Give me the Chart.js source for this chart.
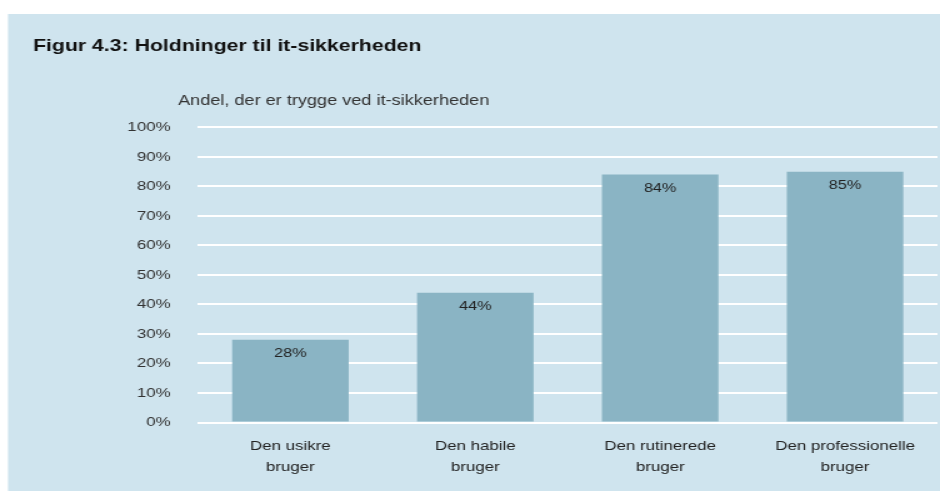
<!DOCTYPE html>
<html>
<head>
<meta charset="utf-8">
<script src="https://cdn.jsdelivr.net/npm/chart.js@4/dist/chart.umd.min.js"></script>
<style>
  html, body { margin: 0; padding: 0; background: #ffffff; overflow: hidden; }
  /* the reference is stretched sideways, so the chart is drawn narrower and widened */
  #wrap { width: 752px; height: 491px; position: relative; transform: scaleX(1.25); transform-origin: 0 0; }
</style>
</head>
<body>
<div id="wrap"><canvas id="trygChart"></canvas></div>
<script>
const titel = "Figur 4.3: Holdninger til it-sikkerheden";
const undertitel = "Andel, der er trygge ved it-sikkerheden";
const kategorier = [
    ["Den usikre", "bruger"],
    ["Den habile", "bruger"],
    ["Den rutinerede", "bruger"],
    ["Den professionelle", "bruger"]
];
const andele = [28, 44, 84, 85];

const fontNavn = "'Liberation Sans', Arial, sans-serif";

// baggrundspanel og undertitel
const panelPlugin = {
    id: "panel",
    beforeDraw(chart) {
        const ctx = chart.ctx;
        ctx.save();
        ctx.fillStyle = "#cfe4ee";
        ctx.fillRect(6.4, 14, chart.width - 6.4, chart.height - 14);
        ctx.restore();
    },
    afterDraw(chart) {
        const ctx = chart.ctx;
        ctx.save();
        ctx.font = "14.5px " + fontNavn;
        ctx.fillStyle = "#333333";
        ctx.textBaseline = "middle";
        ctx.fillText(undertitel, 142.4, 101);
        ctx.restore();
    }
};

// værdier inde i toppen af søjlerne
const vaerdiPlugin = {
    id: "vaerdier",
    afterDatasetsDraw(chart) {
        const ctx = chart.ctx;
        const meta = chart.getDatasetMeta(0);
        ctx.save();
        ctx.font = "13px " + fontNavn;
        ctx.fillStyle = "#222222";
        ctx.textAlign = "center";
        ctx.textBaseline = "middle";
        meta.data.forEach((bar, i) => {
            ctx.fillText(andele[i] + "%", bar.x, bar.y + 14);
        });
        ctx.restore();
    }
};

const ctx = document.getElementById("trygChart").getContext("2d");

let trygChart = new Chart(ctx, {
    type: "bar",
    data: {
        labels: kategorier,
        datasets: [
            {
                label: undertitel,
                data: andele,
                backgroundColor: "#8ab4c4",
                borderWidth: 0,
                barPercentage: 0.63,
                categoryPercentage: 1
            }
        ]
    },
    options: {
        responsive: true,
        maintainAspectRatio: false,
        animation: false,
        layout: {
            padding: { left: 26.4, right: 2, top: 0, bottom: 0 }
        },
        plugins: {
            legend: { display: false },
            tooltip: { enabled: false },
            title: {
                display: true,
                text: titel,
                align: "start",
                color: "#111111",
                font: { family: fontNavn, size: 17, weight: "bold" },
                padding: { top: 36, bottom: 71 }
            }
        },
        scales: {
            x: {
                grid: { display: false, drawTicks: false },
                border: { display: false },
                ticks: {
                    color: "#222222",
                    font: { family: fontNavn, size: 13.5, lineHeight: 1.5 },
                    padding: 14,
                    maxRotation: 0,
                    autoSkip: false
                }
            },
            y: {
                min: 0,
                max: 100,
                afterFit(scale) { scale.width = 132; },
                grid: { color: "#ffffff", lineWidth: 2, drawTicks: false },
                border: { display: false },
                ticks: {
                    stepSize: 10,
                    color: "#333333",
                    font: { family: fontNavn, size: 13.5 },
                    padding: 22,
                    callback: v => v + "%"
                }
            }
        }
    },
    plugins: [panelPlugin, vaerdiPlugin]
});
</script>
</body>
</html>
